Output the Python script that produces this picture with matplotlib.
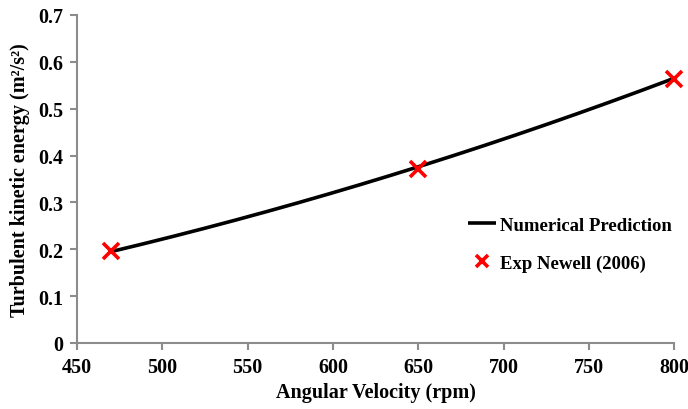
import numpy as np
import matplotlib
matplotlib.use("Agg")
import matplotlib.pyplot as plt

# Numerical prediction and experimental data
speed_rpm = [470, 650, 800]
tke_numerical = [0.195, 0.376, 0.565]
tke_experiment = [0.197, 0.372, 0.563]

x_ticks = [450, 500, 550, 600, 650, 700, 750, 800]
y_ticks = [0, 0.1, 0.2, 0.3, 0.4, 0.5, 0.6, 0.7]
y_tick_labels = ["0", "0.1", "0.2", "0.3", "0.4", "0.5", "0.6", "0.7"]

plt.rcParams["font.family"] = ["Liberation Serif", "DejaVu Serif"]
plt.rcParams["font.weight"] = "bold"

fig = plt.figure(figsize=(6.88, 4.10), dpi=100)
ax = fig.add_axes([0.1119, 0.161, 0.868, 0.80])

# smooth curve through the numerical points
coef = np.polyfit(speed_rpm, tke_numerical, 2)
xs = np.linspace(speed_rpm[0], speed_rpm[-1], 200)
ax.plot(xs, np.polyval(coef, xs), color="black", lw=2.6,
        solid_capstyle="butt", label="Numerical Prediction", zorder=2)
ax.plot(speed_rpm, tke_experiment, linestyle="none", marker="x",
        color="#ff0000", ms=11, mew=2.6, label="Exp Newell (2006)",
        zorder=3, clip_on=False)

ax.set_xlim(450, 800)
ax.set_ylim(0, 0.7)
ax.set_xticks(x_ticks)
ax.set_yticks(y_ticks)
ax.set_yticklabels(y_tick_labels)

for side in ("top", "right"):
    ax.spines[side].set_visible(False)
for side in ("left", "bottom"):
    ax.spines[side].set_color("#8c8c8c")
    ax.spines[side].set_linewidth(1.5)
ax.tick_params(direction="out", length=5, width=1.5, color="#8c8c8c",
               labelsize=14.5, pad=5)
for lbl in ax.get_xticklabels() + ax.get_yticklabels():
    lbl.set_fontweight("bold")

ax.set_xlabel("Angular Velocity (rpm)", fontsize=14.5, fontweight="bold", labelpad=4)
ax.set_ylabel("Turbulent kinetic energy (m²/s²)", fontsize=14.5,
              fontweight="bold", labelpad=6)

ax.legend(loc="upper left", bbox_to_anchor=(0.626, 0.437), frameon=False,
          prop={"size": 13.5, "weight": "bold"}, handlelength=1.5,
          handletextpad=0.2, labelspacing=1.1, markerscale=0.75)

fig.savefig("out.png", dpi=100)
